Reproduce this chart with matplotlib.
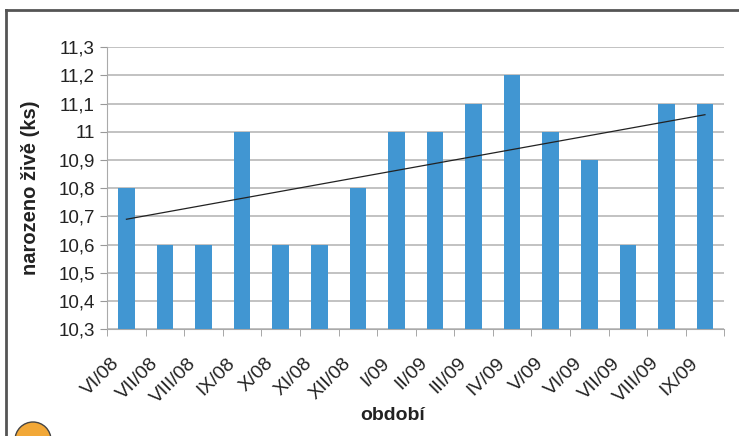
import numpy as np
import matplotlib.pyplot as plt
from matplotlib.patches import Circle
from matplotlib.lines import Line2D

plt.rcParams['font.family'] = ['Liberation Sans', 'DejaVu Sans']

months = ['VI/08', 'VII/08', 'VIII/08', 'IX/08', 'X/08', 'XI/08', 'XII/08', 'I/09',
          'II/09', 'III/09', 'IV/09', 'V/09', 'VI/09', 'VII/09', 'VIII/09', 'IX/09']
born = [10.8, 10.6, 10.6, 11.0, 10.6, 10.6, 10.8, 11.0,
        11.0, 11.1, 11.2, 11.0, 10.9, 10.6, 11.1, 11.1]
y_ticks = [10.3, 10.4, 10.5, 10.6, 10.7, 10.8, 10.9, 11.0, 11.1, 11.2, 11.3]
y_labels = ['10,3', '10,4', '10,5', '10,6', '10,7', '10,8', '10,9', '11', '11,1', '11,2', '11,3']

fig = plt.figure(figsize=(7.39, 4.36), dpi=100)
ax = fig.add_axes([0.145, 0.245, 0.835, 0.647])

x = np.arange(len(months))
ax.bar(x, np.array(born) - 10.3, bottom=10.3, width=0.43, color='#4196d2', zorder=3)

# linear trend
k, q = np.polyfit(x, born, 1)
ax.plot([x[0], x[-1]], [k * x[0] + q, k * x[-1] + q], color='#222222', lw=0.9, zorder=4)

ax.set_xlim(-0.5, len(months) - 0.5)
ax.set_ylim(10.3, 11.3)
ax.set_yticks(y_ticks)
ax.set_yticklabels(y_labels, fontsize=13.5, color='#222222')
ax.set_xticks(x)
ax.set_xticklabels([])
ax.tick_params(axis='x', length=0)
ax.set_xticks(np.arange(-0.5, len(months)), minor=True)
ax.tick_params(axis='x', which='minor', length=5, color='#999999')
ax.tick_params(axis='y', length=5, color='#999999', pad=4)

# rotated month labels, set a bit left of each bar like in the original
xtrans = ax.get_xaxis_transform()
for i, m in enumerate(months):
    ax.text(i - 0.41, -0.09, m, transform=xtrans, rotation=45, ha='right', va='top',
            rotation_mode='anchor', fontsize=14, color='#222222')

ax.yaxis.grid(True, color='#b8b8b8', lw=1.2)
ax.set_axisbelow(True)
for s in ['top', 'right']:
    ax.spines[s].set_visible(False)
ax.spines['left'].set_color('#aaaaaa')
ax.spines['bottom'].set_color('#aaaaaa')

ax.set_ylabel('narozeno živě (ks)', fontsize=14.5, fontweight='bold', color='#222222', labelpad=13)
ax.set_xlabel('období', fontsize=14, fontweight='bold', color='#222222')
ax.xaxis.set_label_coords(0.462, -0.275)

# frame and decoration
fig.add_artist(Line2D([6 / 739, 1], [1 - 10 / 436, 1 - 10 / 436], color='#555555', lw=2,
                      transform=fig.transFigure))
fig.add_artist(Line2D([6 / 739, 6 / 739], [0, 1 - 10 / 436], color='#555555', lw=2,
                      transform=fig.transFigure))
circ = Circle((33, -4), 18, transform=None, facecolor='#f2a838', edgecolor='#444444', lw=1)
fig.add_artist(circ)

fig.savefig('out.png', dpi=100)
